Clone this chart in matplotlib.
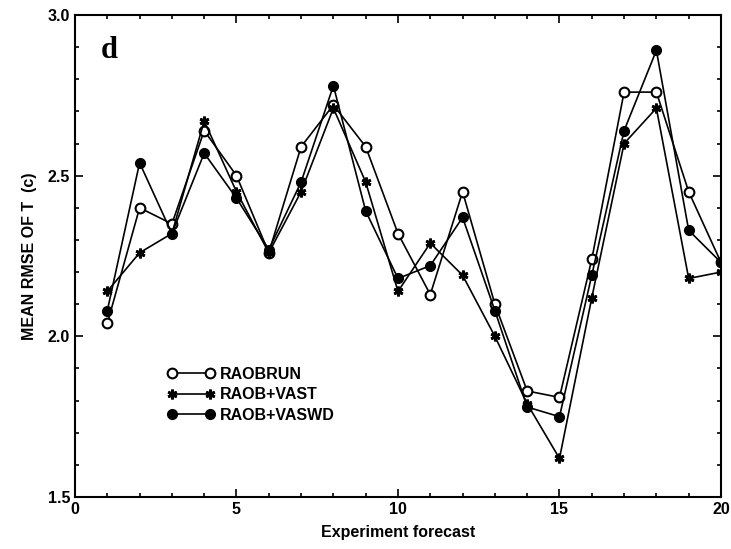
import numpy as np
import matplotlib
matplotlib.use("Agg")
import matplotlib.pyplot as plt
from matplotlib.ticker import MultipleLocator, FormatStrFormatter

# experiment forecast number
forecast = np.arange(1, 21)

# mean RMSE of T
raobrun = [2.04, 2.40, 2.35, 2.64, 2.50, 2.26, 2.59, 2.72, 2.59, 2.32,
           2.13, 2.45, 2.10, 1.83, 1.81, 2.24, 2.76, 2.76, 2.45, 2.23]
raob_vast = [2.14, 2.26, 2.32, 2.67, 2.45, 2.26, 2.45, 2.71, 2.48, 2.14,
             2.29, 2.19, 2.00, 1.79, 1.62, 2.12, 2.60, 2.71, 2.18, 2.20]
raob_vaswd = [2.08, 2.54, 2.32, 2.57, 2.43, 2.27, 2.48, 2.78, 2.39, 2.18,
              2.22, 2.37, 2.08, 1.78, 1.75, 2.19, 2.64, 2.89, 2.33, 2.23]

plt.rcParams['font.family'] = ['Liberation Sans', 'DejaVu Sans']
plt.rcParams['font.weight'] = 'bold'
plt.rcParams['axes.labelweight'] = 'bold'

fig = plt.figure(figsize=(7.31, 5.49), dpi=100)
ax = fig.add_axes([0.1026, 0.0947, 0.8837, 0.878])

ax.plot(forecast, raobrun, color='k', lw=1.2, marker='o', ms=7,
        mfc='white', mec='k', mew=1.5, label='RAOBRUN', zorder=3)
ax.plot(forecast, raob_vast, color='k', lw=1.2, marker=(6, 2, 0), ms=7,
        mec='k', mew=2, label='RAOB+VAST', zorder=3)
ax.plot(forecast, raob_vaswd, color='k', lw=1.2, marker='o', ms=7,
        mfc='k', mec='k', label='RAOB+VASWD', zorder=3)

ax.set_xlim(0, 20)
ax.set_ylim(1.5, 3.0)
ax.xaxis.set_major_locator(MultipleLocator(5))
ax.xaxis.set_minor_locator(MultipleLocator(1))
ax.yaxis.set_major_locator(MultipleLocator(0.5))
ax.yaxis.set_minor_locator(MultipleLocator(0.1))
ax.yaxis.set_major_formatter(FormatStrFormatter('%.1f'))
ax.tick_params(which='both', direction='in', top=True, right=True, width=1.2)
ax.tick_params(which='major', length=6, labelsize=11.5)
ax.tick_params(which='minor', length=3)
for s in ax.spines.values():
    s.set_linewidth(1.5)

ax.set_xlabel('Experiment forecast', fontsize=11.5, labelpad=6)
ax.set_ylabel('MEAN RMSE OF T  (c)', fontsize=11.5, labelpad=8)

ax.text(0.04, 0.91, 'd', transform=ax.transAxes, fontsize=22,
        family='Liberation Serif')

ax.legend(loc='upper left', bbox_to_anchor=(0.12, 0.30), frameon=False,
          numpoints=2, handlelength=3.0, handletextpad=0.3, labelspacing=0.35,
          prop={'size': 11.5})

fig.savefig('out.png', dpi=100)
